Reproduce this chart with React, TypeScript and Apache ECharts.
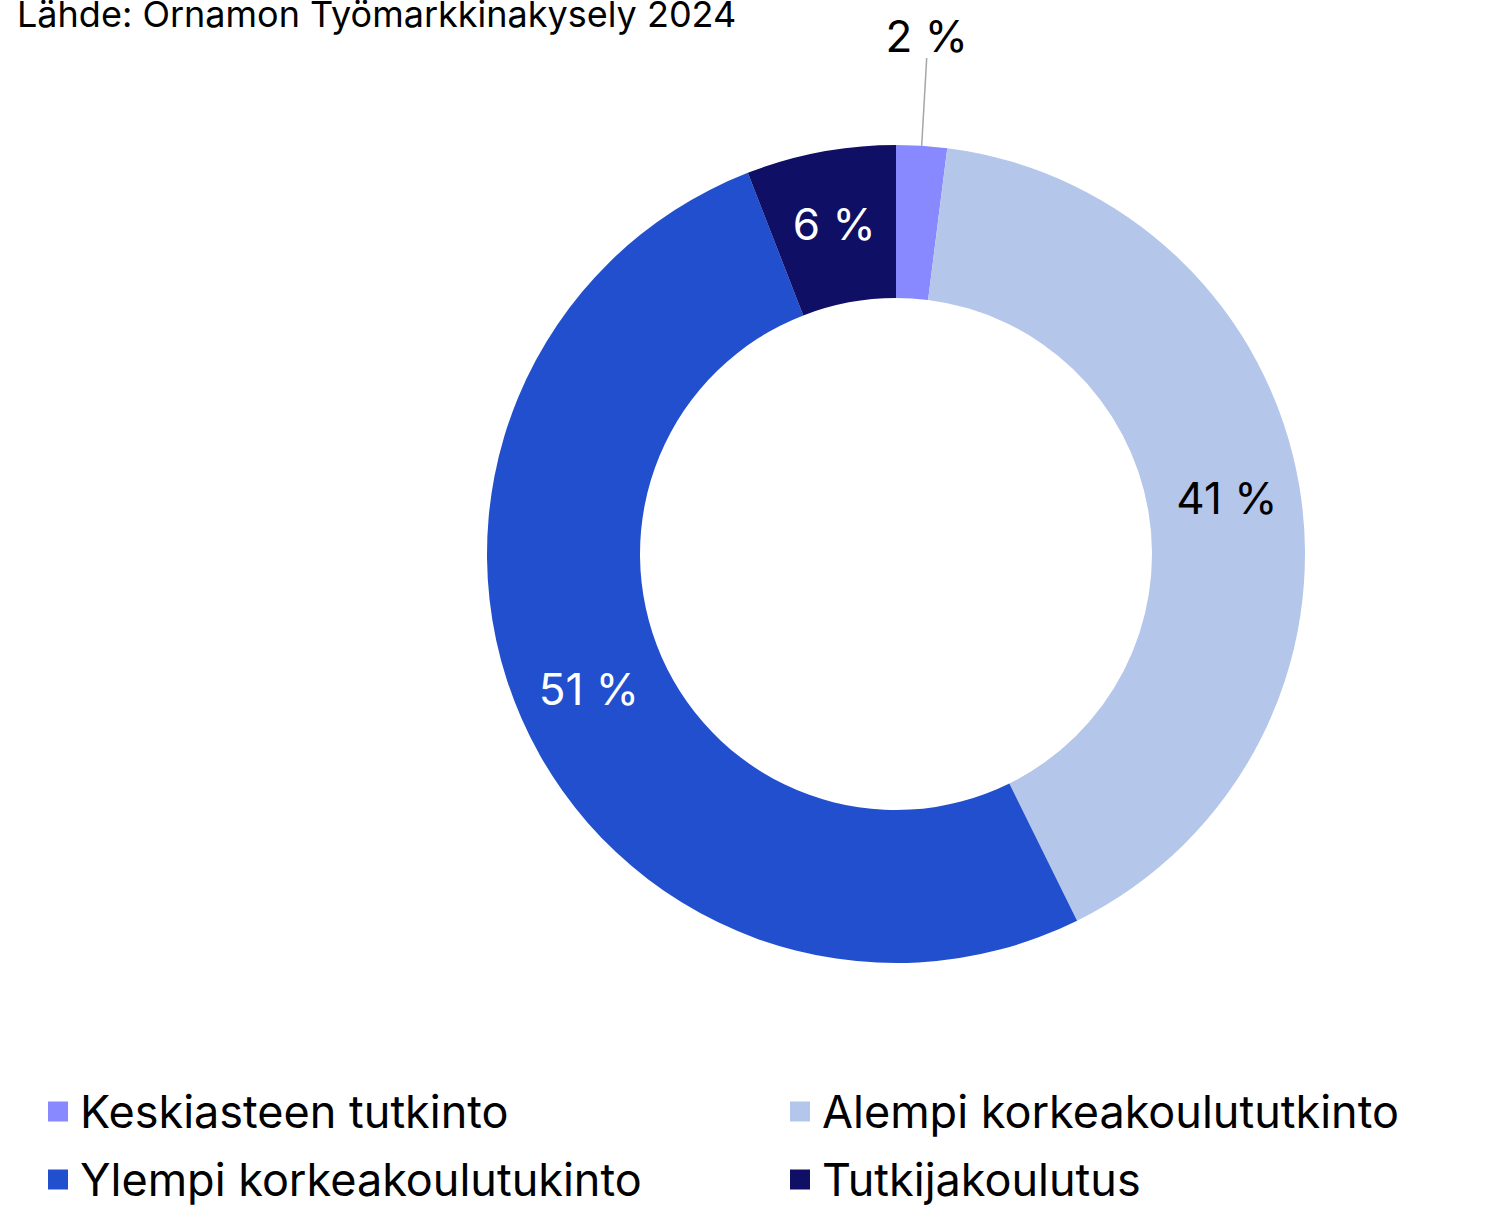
import React, { useEffect, useRef } from "react";
import * as echarts from "echarts";

const categories = [
  "Keskiasteen tutkinto",
  "Alempi korkeakoulututkinto",
  "Ylempi korkeakoulutukinto",
  "Tutkijakoulutus",
];
const values = [2.0, 40.7, 51.4, 5.9];
const colors = ["#8888ff", "#b4c6ea", "#224fce", "#0f0f66"];
const labelColors = ["#000000", "#000000", "#ffffff", "#ffffff"];
const sourceText = "Lähde: Ornamon Työmarkkinakysely 2024";

const FONT = "Inter, 'Noto Sans', sans-serif";

export default function App() {
  const ref = useRef<HTMLDivElement>(null);
  useEffect(() => {
    if (!ref.current) return;
    const chart = echarts.init(ref.current, undefined, { renderer: "svg" });
    const data = categories.map((name, i) => {
      const item: any = {
        name,
        value: values[i],
        itemStyle: { color: colors[i] },
        label: { color: labelColors[i] },
      };
      if (i === 0) {
        item.label = {
          color: labelColors[i],
          position: "outside",
        };
        item.labelLine = {
          show: true,
          length: 80,
          length2: 0,
          lineStyle: { color: "#a6a6a6", width: 1.5 },
        };
      }
      return item;
    });
    const legendPos = [
      { left: 48, top: 1089 },
      { left: 790, top: 1089 },
      { left: 48, top: 1157 },
      { left: 790, top: 1157 },
    ];
    const legends = categories.map((name, i) => ({
      data: [name],
      left: legendPos[i].left,
      top: legendPos[i].top,
      icon: "rect",
      itemWidth: 20,
      itemHeight: 20,
      padding: 0,
      selectedMode: false,
      textStyle: {
        fontFamily: FONT,
        fontSize: 45,
        color: "#000",
        padding: [0, 0, 0, 7],
      },
    }));
    chart.setOption({
      animation: false,
      backgroundColor: "#ffffff",
      title: {
        text: sourceText,
        left: 12,
        top: -9,
        textStyle: { fontFamily: FONT, fontSize: 36, fontWeight: "normal", color: "#000" },
      },
      legend: legends,
      series: [
        {
          type: "pie",
          center: [896, 554],
          radius: [256, 409],
          startAngle: 90,
          clockwise: true,
          avoidLabelOverlap: false,
          label: {
            show: true,
            position: "inside",
            fontFamily: FONT,
            fontSize: 44,
            formatter: (p: any) => `${Math.round(p.value)} %`,
          },
          labelLine: { show: false },
          labelLayout: (p: any) => {
            if (p.dataIndex !== 0 || !p.labelLinePoints) return {};
            const end = p.labelLinePoints[p.labelLinePoints.length - 1];
            return {
              x: end[0],
              y: end[1] - 30,
              align: "center",
              verticalAlign: "middle",
            };
          },
          emphasis: { disabled: true },
          data,
        },
      ],
    });
    return () => chart.dispose();
  }, []);
  return (
    <div
      ref={ref}
      style={{ position: "fixed", left: 0, top: 0, width: 1485, height: 1207 }}
    />
  );
}
